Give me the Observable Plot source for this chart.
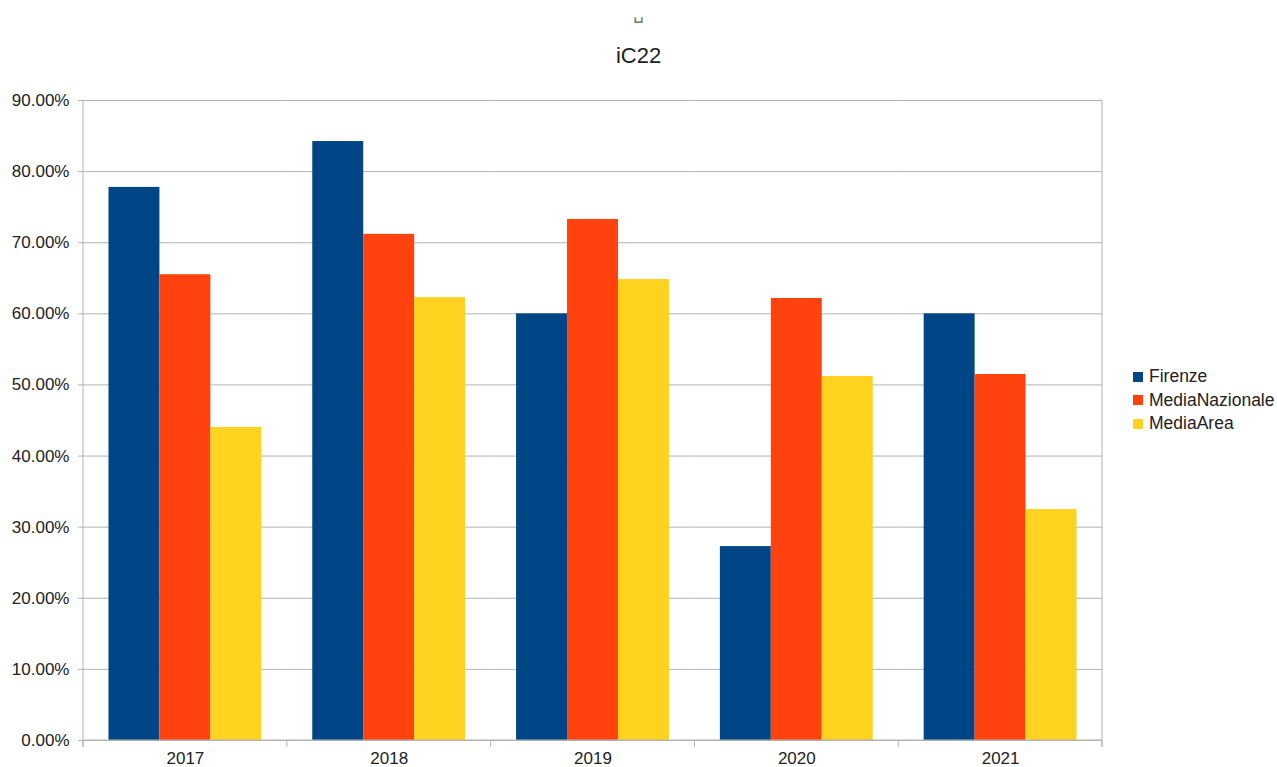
<!DOCTYPE html>
<html>
<head>
<meta charset="utf-8">
<script src="https://cdn.jsdelivr.net/npm/d3@7"></script>
<script src="https://cdn.jsdelivr.net/npm/@observablehq/plot@0.6"></script>
<style>
  html, body { margin: 0; padding: 0; background: #fff; }
  body { font-family: "Liberation Sans", Arial, sans-serif; }
  #wrap { position: relative; width: 1277px; height: 767px; overflow: hidden; }
  #header { position: relative; height: 80px; }
  #glyph { position: absolute; left: 0; width: 1277px; top: 2px; text-align: center; font-size: 18px; color: #777; font-family: "DejaVu Sans Mono", "DejaVu Sans", monospace; }
  #title { position: absolute; left: 0; width: 1277px; top: 43px; text-align: center; font-size: 22px; color: #222; }
  #legend { position: absolute; left: 1133px; top: 365px; font-size: 17.5px; color: #222; }
  #legend .item { display: flex; align-items: center; height: 23.5px; white-space: nowrap; }
  #legend .sw { width: 10px; height: 10px; margin-right: 6px; }
  svg g[aria-label="y-axis tick"] path { stroke: #b3b3b3; }
</style>
</head>
<body>
<div id="wrap">
  <div id="header"><div id="glyph">␣</div><div id="title">iC22</div></div>
  <div id="chart"></div>
  <div id="legend"></div>
</div>
<script>
const years = ["2017", "2018", "2019", "2020", "2021"];
const series = ["Firenze", "MediaNazionale", "MediaArea"];
const firenze = [0.7778, 0.8423, 0.6000, 0.2727, 0.6000];
const mediaNazionale = [0.6550, 0.7118, 0.7327, 0.6216, 0.5147];
const mediaArea = [0.4402, 0.6228, 0.6483, 0.5119, 0.3248];
const colors = ["#004586", "#ff420e", "#ffd320"];
const yTicks = [0, 0.1, 0.2, 0.3, 0.4, 0.5, 0.6, 0.7, 0.8, 0.9];

const seriesValues = [firenze, mediaNazionale, mediaArea];
const data = years.flatMap((yr, i) => series.map((s, j) => ({year: yr, series: s, value: seriesValues[j][i]})));

const plot = Plot.plot({
  width: 1277,
  height: 687,
  marginLeft: 83,
  marginRight: 175,
  marginTop: 20,
  marginBottom: 27,
  style: {fontFamily: "'Liberation Sans', Arial, sans-serif", fontSize: "17px", color: "#222", background: "white", overflow: "visible"},
  fx: {domain: years, padding: 0, paddingInner: 0, paddingOuter: 0, round: false, label: null, tickSize: 0, tickPadding: 11},
  x: {domain: series, paddingInner: 0, paddingOuter: 0.5, round: false, axis: null},
  y: {domain: [0, 0.9], ticks: yTicks, tickFormat: d => (d * 100).toFixed(2) + "%", tickSize: 5, tickPadding: 9, label: null},
  color: {domain: series, range: colors},
  marks: [
    Plot.gridY(yTicks, {stroke: "#b3b3b3", strokeOpacity: 1}),
    Plot.barY(data, {fx: "year", x: "series", y: "value", fill: "series"})
  ]
});
document.getElementById("chart").appendChild(plot);

// axis lines and category boundary ticks from the plot's own scales
const fx = plot.scale("fx");
const y = plot.scale("y");
const svg = d3.select(plot);
const g = svg.append("g").attr("stroke", "#b3b3b3").attr("stroke-width", 1);
const x0 = fx.apply(years[0]);
const x1 = fx.apply(years[years.length - 1]) + fx.bandwidth;
const yTop = y.apply(0.9), yBottom = y.apply(0);
const bounds = years.map(yr => fx.apply(yr)).concat([x1]);
g.append("line").attr("x1", x0).attr("x2", x0).attr("y1", yTop).attr("y2", yBottom + 7);
g.append("line").attr("x1", x1).attr("x2", x1).attr("y1", yTop).attr("y2", yBottom + 7);
g.append("line").attr("x1", x0).attr("x2", x1).attr("y1", yBottom).attr("y2", yBottom);
bounds.forEach(b => g.append("line").attr("x1", b).attr("x2", b).attr("y1", yBottom).attr("y2", yBottom + 7));

// legend
const legend = d3.select("#legend");
series.forEach((s, i) => {
  const item = legend.append("div").attr("class", "item");
  item.append("div").attr("class", "sw").style("background", colors[i]);
  item.append("span").text(s);
});
</script>
</body>
</html>
